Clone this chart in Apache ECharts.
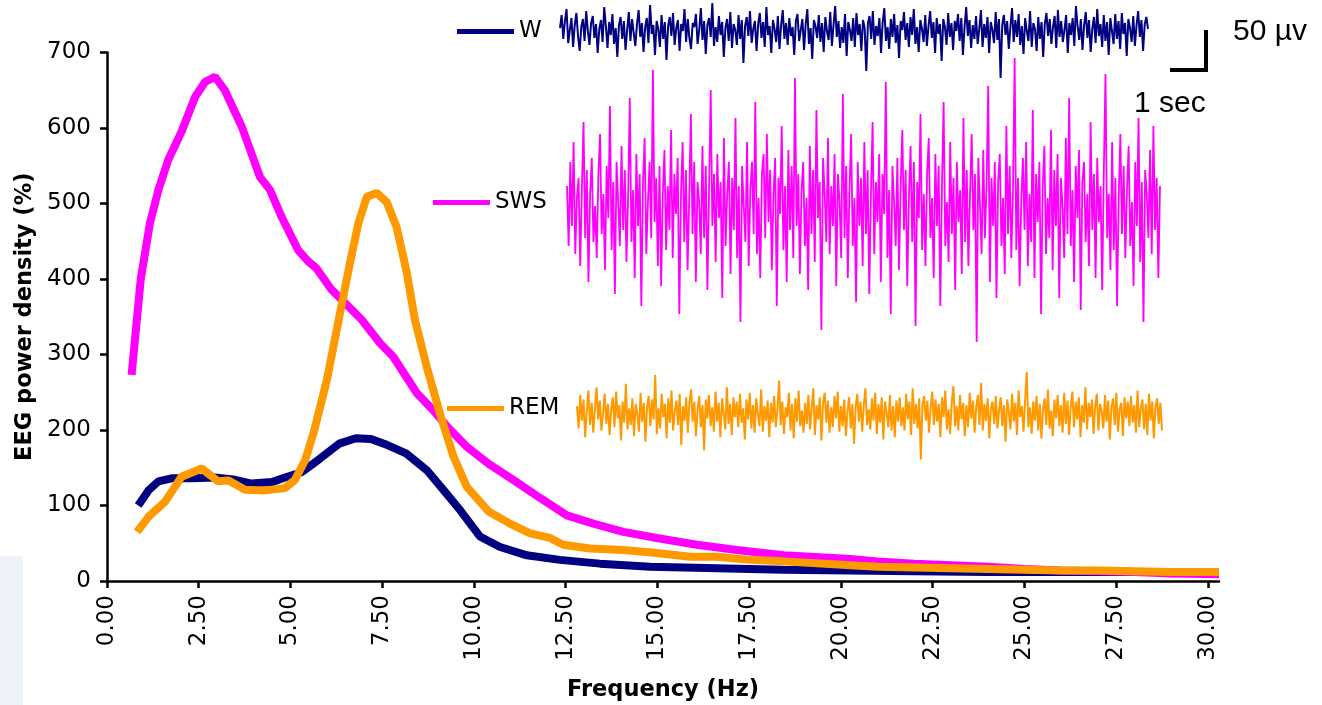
<!DOCTYPE html>
<html>
<head>
<meta charset="utf-8">
<title>EEG power density</title>
<script src="https://cdn.jsdelivr.net/npm/echarts@6/dist/echarts.min.js"></script>
<style>
  html, body { margin: 0; padding: 0; background: #fff; }
  #chart { width: 1322px; height: 705px; }
</style>
</head>
<body>
<div id="chart"></div>
<script>
// tick labels of the frequency axis
var freqTicks = [0, 2.5, 5, 7.5, 10, 12.5, 15, 17.5, 20, 22.5, 25, 27.5, 30];

// power spectra (% of baseline)
var wFreq = [0.85, 1.13, 1.40, 1.76, 2.31, 2.94, 3.49, 3.94, 4.49, 4.85, 5.30, 5.80, 6.33, 6.78, 7.19, 7.64, 8.15, 8.71, 9.16, 9.62, 10.16, 10.71, 11.44, 12.34, 13.43, 14.80, 16.61, 18.43, 20.25, 22, 24, 26, 28, 30.3];
var wPower = [100, 120, 132, 136, 136, 137, 134, 129, 131, 137, 144, 162, 182, 189, 188, 180, 169, 147, 121, 94, 59, 45, 34, 28, 23, 19, 17, 15, 14, 13, 12, 12, 12, 12];

var swsFreq = [0.67, 0.92, 1.17, 1.40, 1.67, 2.03, 2.40, 2.67, 2.94, 3.21, 3.67, 4.17, 4.44, 4.76, 5.21, 5.49, 5.71, 6.10, 6.53, 6.94, 7.44, 7.80, 8.44, 8.89, 9.26, 9.80, 10.40, 11.10, 11.80, 12.53, 13.25, 14.07, 14.98, 16.07, 17.16, 18.43, 20.25, 21, 22, 23, 24, 25, 26, 27, 28, 29, 30.3];
var swsPower = [273, 400, 474, 518, 558, 595, 641, 661, 668, 650, 602, 535, 518, 482, 438, 423, 414, 387, 366, 346, 315, 297, 249, 226, 205, 178, 155, 133, 110, 87, 76, 65, 57, 48, 41, 34, 29, 26, 23, 21, 19, 16, 14, 13, 12, 10, 9];

var remFreq = [0.82, 1.13, 1.58, 2.03, 2.58, 3.03, 3.31, 3.76, 4.31, 4.85, 5.12, 5.40, 5.64, 5.99, 6.35, 6.62, 6.85, 7.08, 7.35, 7.62, 7.89, 8.17, 8.39, 8.71, 9.07, 9.44, 9.80, 10.40, 10.98, 11.53, 12.07, 12.43, 13.16, 14.07, 14.98, 15.89, 16.61, 17.52, 18.43, 20.25, 21, 22, 23, 24, 25, 26, 27, 28, 29, 30.3];
var remPower = [65, 85, 105, 138, 149, 132, 133, 121, 120, 123, 134, 160, 198, 266, 355, 421, 474, 509, 514, 502, 469, 408, 346, 284, 222, 165, 125, 92, 76, 63, 57, 48, 43, 41, 37, 32, 32, 28, 26, 21, 19, 18, 17, 16, 15, 14, 14, 13, 12, 12];

// raw EEG example traces (uV)
var wTrace = [
  5, 18, -6, 12, 24, -10, 3, 15, -14, 8, 20, -3, -18, 6, 14, -8, 22, 2, -12, 10,
  17, -5, 9, -20, 4, 13, -9, 26, 7, -15, 11, -2, 19, -11, 5, -24, 8, 16, -6, 12,
  -17, 3, 21, -8, 14, 0, -13, 9, 23, -4, 10, -19, 6, 15, -10, 28, -1, 8, -22, 12,
  4, -14, 18, -6, 11, -27, 7, 16, -3, 20, -12, 5, 13, -18, 9, 2, 24, -9, 14, -5,
  -16, 10, 6, 19, -11, 3, 25, -7, 12, -21, 8, 15, -4, 30, -13, 6, -9, 17, -2, 11,
  -24, 5, 14, -8, 21, -15, 9, 3, -12, 18, -6, 13, -30, 7, 16, -3, 22, -10, 4, 12,
  -18, 9, 20, -5, 11, -14, 26, -2, 7, -20, 13, 4, -9, 17, -16, 8, 23, -6, 10, -12,
  15, -3, 6, -22, 12, 19, -8, 3, 14, -17, 9, 24, -11, 5, -26, 13, 7, -5, 18, -9,
  10, -19, 16, 2, -7, 21, -13, 8, 27, -4, 12, -15, 6, -10, 19, -23, 11, 3, -8, 15,
  -14, 20, -2, 9, -18, 13, 5, -38, 10, 17, -6, 22, -12, 7, -3, 15, -20, 11, 25, -8,
  6, -16, 14, -4, 19, -10, 8, -25, 12, 3, 21, -7, 10, -14, 16, -2, 24, -11, 6, -19,
  13, 4, -9, 18, -13, 7, 22, -5, 11, -20, 15, -1, 9, -28, 14, 6, -12, 20, -4, 10,
  -17, 12, 2, 19, -8, 15, -22, 6, 26, -3, 13, -15, 8, -6, 17, -11, 4, 23, -14, 9,
  -5, 16, -20, 11, 3, -10, 21, -7, 14, -45, 8, 18, -2, 12, -16, 6, 25, -9, 13, -4,
  19, -12, 7, -21, 15, 2, -8, 22, -14, 10, 4, -18, 16, -6, 11, -24, 9, 20, -3, 14,
  -11, 6, 17, -15, 23, -4, 12, -9, 3, 18, -20, 10, -2, 15, -13, 27, 7, -7, 14, -17,
  8, 21, -5, 13, -19, 4, 16, -10, 24, -3, 9, -14, 18, -8, 11, -22, 15, 2, -11, 19,
  -6, 12, -16, 20, -1, 10, -23, 14, 5, -9, 17, -13, 8, 22, -4, 13, -18, 9, 16, 4
];
var swsTrace = [
  30, -45, 60, -20, 85, -55, 15, 40, -70, 25, 110, -35, 50, -90, 20, 65, -40, 5, -60, 45,
  95, -30, 20, -75, 55, -10, 130, -50, 35, -105, 60, 10, -45, 80, -25, 50, -65, 15, 140, -40,
  25, -85, 70, -20, 45, -120, 35, 90, -55, 10, 60, -35, 175, -15, 40, -70, 55, -95, 20, 75,
  -50, 30, -25, 100, -60, 45, -5, 65, -130, 20, 85, -40, 50, -75, 15, 120, -30, 60, -90, 35,
  10, -55, 80, -35, 55, -100, 25, 150, -20, 45, -65, 70, -10, 35, -110, 90, -45, 20, 60, -80,
  40, -25, 115, -60, 30, -140, 55, 5, -40, 85, -70, 25, 60, -30, 135, -55, 15, -85, 45, 70,
  -35, 95, -15, 50, -75, 20, 65, -120, 40, -5, 105, -50, 30, -90, 75, -25, 55, -60, 165, -20,
  45, -80, 25, 60, -45, 15, -100, 80, -30, 50, -65, 125, -10, 35, -150, 65, 20, -40, 90, -55,
  30, -20, 70, -95, 45, 10, -60, 145, -35, 55, -85, 25, 95, -45, 15, -115, 60, -20, 40, -70,
  85, -30, 50, -105, 20, 110, -55, 35, -15, 70, -90, 45, -5, 160, -60, 25, -130, 55, 10, -45,
  65, -75, 30, 100, -25, 50, -95, 15, 80, -40, 60, -145, 35, -10, 120, -50, 20, -70, 45, 90,
  -35, 15, -85, 70, -20, 55, -120, 30, 135, -45, 10, -65, 85, -30, 40, -100, 60, -15, 25, -80,
  115, -40, 50, -70, 20, 95, -25, 45, -165, 65, 5, -55, 75, -35, 30, 155, -90, 40, -20, 60,
  -110, 35, 70, -45, 15, -80, 105, -30, 55, -60, 25, 190, -50, 40, -95, 10, 65, -25, 85, -70,
  20, -40, 125, -85, 45, -15, 60, -130, 30, 80, -55, 15, -35, 100, -75, 50, -20, 70, -110, 40,
  5, -60, 90, -30, 140, -45, 25, -90, 55, -10, 75, -125, 35, 60, -40, 20, -70, 110, -25, 45,
  -85, 65, -15, 30, -100, 50, 170, -35, 20, -75, 85, -50, 40, -120, 15, 95, -30, 55, -60, 25,
  80, -45, 10, -95, 60, -20, 115, -65, 35, -140, 50, 20, -35, 75, -55, 105, -25, 40, -85, 30
];
var remTrace = [
  8, -12, 18, -5, 14, -20, 3, 22, -9, 11, -16, 6, 25, -4, 13, -14, 2, 19, -8, 10,
  -18, 5, 16, -11, 21, -3, 9, -23, 12, -7, 28, -13, 6, -9, 15, -19, 10, 1, -15, 20,
  -6, 11, -24, 7, 17, -10, 14, -4, 36, -17, 6, -12, 19, -2, 10, -21, 15, -7, 22, -14,
  3, 13, -9, 19, -27, 8, -5, 16, -16, 11, 23, -6, 12, -19, 5, 17, -11, 9, -32, 14,
  -3, 18, -10, 7, -15, 21, -6, 11, -20, 15, 2, -13, 25, -8, 10, -18, 16, -2, 12, -11,
  19, -7, 6, -22, 14, -4, 20, -12, 9, -16, 15, 1, -10, 23, -15, 8, -5, 13, -20, 11,
  -7, 17, -11, 5, 31, -9, 12, -17, 7, -2, 20, -14, 10, -21, 15, -6, 22, -10, 4, -16,
  11, -8, 18, -13, 6, 24, -18, 9, -4, 16, -23, 11, 20, -7, 13, -16, 7, -11, 17, -3,
  21, -15, 8, -10, 14, -19, 3, 16, -12, 10, -26, 7, 19, -6, 12, -15, 9, 24, -9, 5,
  -13, 15, -5, 20, -17, 10, -7, 16, -22, 12, 2, -11, 18, -14, 8, -20, 13, -6, 16, -10,
  7, -14, 19, -4, 12, -18, 24, -8, 10, -12, 15, -40, 9, 17, -5, 13, -16, 6, 21, -9,
  14, -6, 10, -20, 16, -2, 22, -13, 5, -17, 12, 26, -10, 8, -14, 18, -4, 11, -19, 9,
  -11, 20, -3, 13, -16, 7, 18, -9, 29, -14, 10, -5, 15, -21, 6, 12, -8, 17, -12, 4,
  16, -10, 9, -24, 14, 3, -13, 19, -6, 11, -18, 22, -2, 8, -15, 13, 39, -11, 7, -17,
  12, -5, 17, -14, 10, -21, 6, 15, -9, 23, -12, 4, -19, 14, -3, 18, -10, 9, -16, 20,
  -8, 13, -18, 7, 21, -11, 12, -4, 16, -20, 9, -7, 25, -13, 11, -2, 14, -17, 8, 19,
  -14, 10, 3, -12, 18, -6, 13, -22, 7, 15, -9, 20, -15, 5, 11, -19, 16, -3, 12, -10,
  17, -7, 9, -16, 22, -11, 6, 14, -13, 10, -18, 19, -5, 12, -21, 8, 15, -8, 11, -14
];

var NAVY = '#000080';
var MAGENTA = '#ff00ff';
var ORANGE = '#ff9900';

function pairs(xs, ys) {
    return xs.map(function (x, i) { return [x, ys[i]]; });
}
function indexAxis() {
    return { type: 'category', boundaryGap: false, show: false };
}

(function () {
    var myChart = echarts.init(document.getElementById('chart'), null, { renderer: 'canvas' });

    var legendBase = {
        icon: 'rect',
        itemWidth: 57,
        itemHeight: 5,
        selectedMode: false,
        orient: 'horizontal',
        textStyle: { fontSize: 23, color: '#000', fontFamily: 'DejaVu Sans' }
    };

    var option = {
        animation: false,
        backgroundColor: '#fff',
        textStyle: { fontFamily: 'DejaVu Sans' },
        legend: [
            Object.assign({ data: ['W'], left: 452, top: 15 }, legendBase),
            Object.assign({ data: ['SWS'], left: 428, top: 186 }, legendBase),
            Object.assign({ data: ['REM'], left: 442, top: 392 }, legendBase)
        ],
        grid: [
            // main spectrum
            { left: 107, width: 1112, top: 52.5, height: 528.5, containLabel: false, outerBoundsMode: 'none' },
            // W, SWS and REM example traces
            { left: 560, width: 588, top: 0, height: 78, outerBoundsMode: 'none' },
            { left: 567, width: 593, top: 50, height: 320, outerBoundsMode: 'none' },
            { left: 577, width: 585, top: 365, height: 100, outerBoundsMode: 'none' }
        ],
        xAxis: [
            {
                type: 'value',
                gridIndex: 0,
                min: 0,
                max: 30.3,
                interval: 2.5,
                name: 'Frequency (Hz)',
                nameLocation: 'middle',
                nameGap: 98,
                nameTextStyle: { fontSize: 22.5, fontWeight: 'bold', color: '#000' },
                axisLine: { lineStyle: { color: '#000', width: 2.5 } },
                axisTick: { customValues: freqTicks, length: 7, lineStyle: { color: '#000', width: 2.5 } },
                axisLabel: {
                    customValues: freqTicks,
                    rotate: 90,
                    margin: 14,
                    fontSize: 23,
                    color: '#000',
                    formatter: function (v) { return v.toFixed(2); }
                },
                splitLine: { show: false }
            },
            Object.assign({ gridIndex: 1 }, indexAxis()),
            Object.assign({ gridIndex: 2 }, indexAxis()),
            Object.assign({ gridIndex: 3 }, indexAxis())
        ],
        yAxis: [
            {
                type: 'value',
                gridIndex: 0,
                min: 0,
                max: 700,
                interval: 100,
                name: 'EEG power density (%)',
                nameLocation: 'middle',
                nameGap: 67,
                nameTextStyle: { fontSize: 22.5, fontWeight: 'bold', color: '#000' },
                axisLine: { show: true, lineStyle: { color: '#000', width: 2.5 } },
                axisTick: { show: true, length: 7, lineStyle: { color: '#000', width: 2.5 } },
                axisLabel: { fontSize: 23, color: '#000', margin: 16 },
                splitLine: { show: false }
            },
            { type: 'value', gridIndex: 1, min: -45, max: 33, show: false },
            { type: 'value', gridIndex: 2, min: -200, max: 200, show: false },
            { type: 'value', gridIndex: 3, min: -45, max: 45, show: false }
        ],
        series: [
            {
                name: 'W',
                type: 'line',
                data: pairs(wFreq, wPower),
                showSymbol: false,
                clip: false,
                color: NAVY,
                lineStyle: { color: NAVY, width: 8 }
            },
            {
                name: 'SWS',
                type: 'line',
                data: pairs(swsFreq, swsPower),
                showSymbol: false,
                clip: false,
                color: MAGENTA,
                lineStyle: { color: MAGENTA, width: 8 }
            },
            {
                name: 'REM',
                type: 'line',
                data: pairs(remFreq, remPower),
                showSymbol: false,
                clip: false,
                color: ORANGE,
                lineStyle: { color: ORANGE, width: 8 }
            },
            // example traces
            {
                name: 'W trace', type: 'line', xAxisIndex: 1, yAxisIndex: 1,
                data: wTrace, showSymbol: false, clip: false,
                lineStyle: { color: NAVY, width: 2 }
            },
            {
                name: 'SWS trace', type: 'line', xAxisIndex: 2, yAxisIndex: 2,
                data: swsTrace, showSymbol: false, clip: false,
                lineStyle: { color: MAGENTA, width: 1.8 }
            },
            {
                name: 'REM trace', type: 'line', xAxisIndex: 3, yAxisIndex: 3,
                data: remTrace, showSymbol: false, clip: false,
                lineStyle: { color: ORANGE, width: 2 }
            }
        ],
        graphic: [
            // scale bar
            {
                type: 'polyline',
                shape: { points: [[1170, 70], [1206, 70], [1206, 30]] },
                style: { stroke: '#000', lineWidth: 4, fill: null }
            },
            {
                type: 'text', left: 1233, top: 17,
                style: { text: '50 µv', fontSize: 30, fontFamily: 'Liberation Sans', fill: '#000' }
            },
            {
                type: 'text', left: 1134, top: 89,
                style: { text: '1 sec', fontSize: 30, fontFamily: 'Liberation Sans', fill: '#000' }
            },
            {
                type: 'rect', left: 0, top: 556,
                shape: { width: 23, height: 149 },
                style: { fill: '#eef2fb' }
            }
        ]
    };

    myChart.setOption(option);
    window.addEventListener('resize', function () {
        myChart.resize();
    });
})();
</script>
</body>
</html>
